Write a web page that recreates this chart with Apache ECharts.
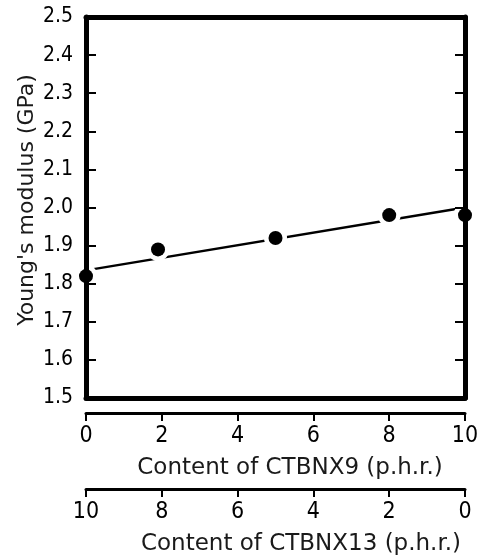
<!DOCTYPE html>
<html>
<head>
<meta charset="utf-8">
<style>
  html, body { margin: 0; padding: 0; background: #fff; }
  #chart { width: 483px; height: 560px; }
</style>
<script src="https://cdn.jsdelivr.net/npm/echarts@6/dist/echarts.min.js"></script>
</head>
<body>
<div id="chart"></div>
<script>
// Young's modulus against rubber blend composition
const ctbnx9Content = [0, 1.9, 5, 8, 10];          // p.h.r. CTBNX9
const youngsModulus = [1.82, 1.89, 1.92, 1.98, 1.98]; // GPa

// fitted trend line end points (CTBNX9 p.h.r., GPa)
const fitX = [0, 10];
const fitY = [1.835, 2.0];

const xTickLabels = ['0', '2', '4', '6', '8', '10'];
const yTickLabels = ['1.5', '1.6', '1.7', '1.8', '1.9', '2.0', '2.1', '2.2', '2.3', '2.4', '2.5'];

const pointData = ctbnx9Content.map((x, i) => [x, youngsModulus[i]]);
const fitData = fitX.map((x, i) => [x, fitY[i]]);

const tickFont = "'Liberation Sans Narrow', 'DejaVu Sans Condensed', 'DejaVu Sans', sans-serif";
const nameFont = "'DejaVu Sans', 'Noto Sans', sans-serif";

const frameLine = { show: true, lineStyle: { color: '#000', width: 5 } };

function scaleAxis(offset, inverse, name, namePad) {
  return {
    type: 'value', min: 0, max: 10, interval: 2, inverse: inverse,
    position: 'bottom', offset: offset, z: 5,
    axisLine: { show: true, onZero: false, lineStyle: { color: '#000', width: 3 } },
    axisTick: { show: true, inside: false, length: 8, lineStyle: { color: '#000', width: 2 } },
    axisLabel: {
      margin: 12, color: '#000', fontSize: 23, fontFamily: tickFont,
      formatter: v => xTickLabels[Math.round(v / 2)]
    },
    splitLine: { show: false },
    name: name, nameLocation: 'middle', nameGap: 44,
    nameTextStyle: { color: '#1a1a1a', fontSize: 23, fontFamily: nameFont, padding: namePad }
  };
}

const chart = echarts.init(document.getElementById('chart'), null, { renderer: 'canvas' });

chart.setOption({
  backgroundColor: '#fff',
  animation: false,
  grid: { left: 86, top: 17, width: 379, height: 381, containLabel: false, outerBoundsMode: 'none' },
  xAxis: [
    scaleAxis(15, false, 'Content of CTBNX9 (p.h.r.)', [0, 0, 0, 29]),
    scaleAxis(91, true, 'Content of CTBNX13 (p.h.r.)', [0, 0, 0, 51]),
    { // bottom edge of the frame
      type: 'value', min: 0, max: 10, position: 'bottom', offset: 0, z: 5,
      axisLine: { ...frameLine, onZero: false }, axisTick: { show: false },
      axisLabel: { show: false }, splitLine: { show: false }
    },
    { // top edge of the frame
      type: 'value', min: 0, max: 10, position: 'top', offset: 0, z: 5,
      axisLine: { ...frameLine, onZero: false }, axisTick: { show: false },
      axisLabel: { show: false }, splitLine: { show: false }
    }
  ],
  yAxis: [
    {
      type: 'value', min: 1.5, max: 2.5, interval: 0.1, position: 'left', z: 5,
      axisLine: frameLine,
      axisTick: { show: true, inside: true, length: 10, lineStyle: { color: '#000', width: 2 } },
      axisLabel: {
        margin: 13, color: '#000', fontSize: 21, fontFamily: tickFont,
        formatter: v => yTickLabels[Math.round((v - 1.5) * 10)]
      },
      splitLine: { show: false },
      name: "Young's modulus (GPa)", nameLocation: 'middle', nameGap: 48, nameMoveOverlap: false,
      nameTextStyle: { color: '#1a1a1a', fontSize: 22, fontFamily: nameFont, padding: [0, 0, 0, 15] }
    },
    {
      type: 'value', min: 1.5, max: 2.5, interval: 0.1, position: 'right', z: 5,
      axisLine: frameLine,
      axisTick: { show: true, inside: true, length: 10, lineStyle: { color: '#000', width: 2 } },
      axisLabel: { show: false }, splitLine: { show: false }
    }
  ],
  series: [
    {
      name: 'fit', type: 'line', data: fitData, z: 1,
      xAxisIndex: 0, yAxisIndex: 0,
      showSymbol: false, lineStyle: { color: '#000', width: 2.5 }
    },
    { // white clearance around each measured point
      name: 'halo', type: 'scatter', data: pointData, z: 2,
      xAxisIndex: 0, yAxisIndex: 0, silent: true,
      symbolSize: 23, itemStyle: { color: '#fff', opacity: 1 }
    },
    {
      name: 'measured', type: 'scatter', data: pointData, z: 6,
      xAxisIndex: 0, yAxisIndex: 0,
      symbolSize: 14, itemStyle: { color: '#000', opacity: 1 }
    }
  ]
});
</script>
</body>
</html>
